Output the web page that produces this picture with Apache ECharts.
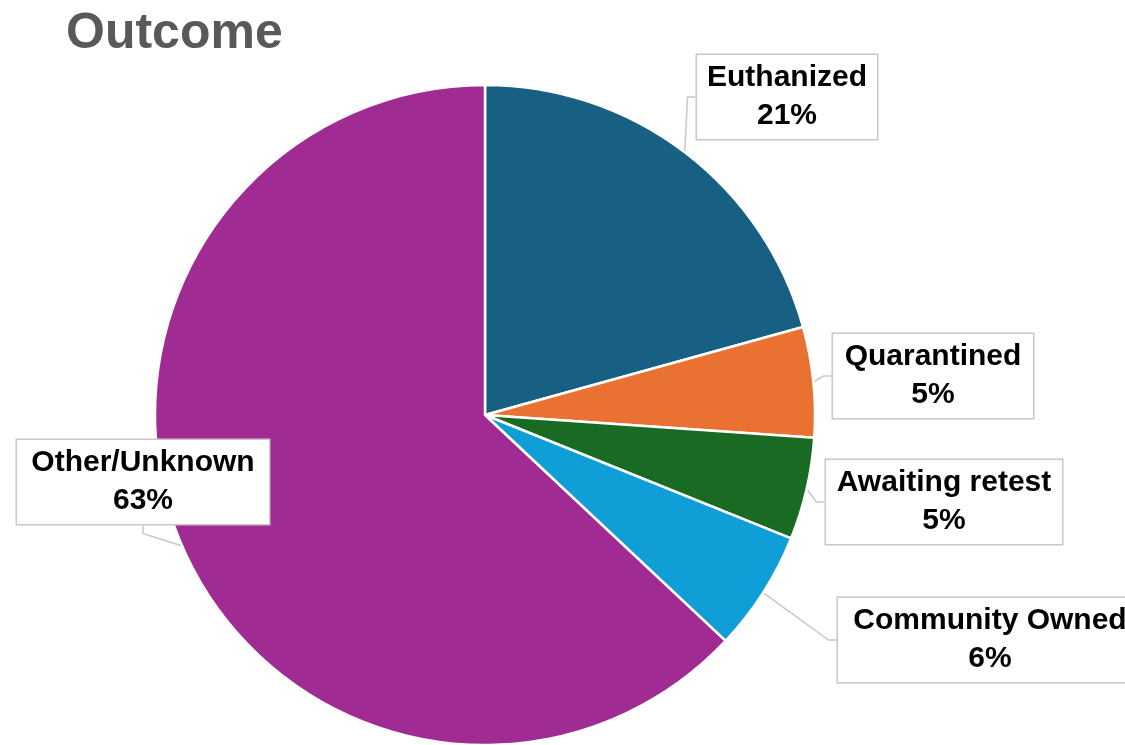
<!DOCTYPE html>
<html>
<head>
<meta charset="utf-8">
<script src="https://cdn.jsdelivr.net/npm/echarts@6/dist/echarts.min.js"></script>
<style>
  html, body { margin: 0; padding: 0; background: #ffffff; }
  #chart { width: 1125px; height: 745px; }
</style>
</head>
<body>
<div id="chart"></div>
<script>
// Outcome shares (percent of cases)
const categories = ['Euthanized', 'Quarantined', 'Awaiting retest', 'Community Owned', 'Other/Unknown'];
const shares = [20.7, 5.4, 5.0, 5.9, 63.0];
const colors = ['#186083', '#E97132', '#196B24', '#0F9ED5', '#A02B93'];

// Callout box placement (centre x, centre y, text box width)
const callouts = [
  [787, 97, 164],
  [933, 376, 184],
  [944, 502, 220],
  [990, 640, 288],
  [143, 482, 236]
];

const total = shares.reduce((a, b) => a + b, 0);

const chart = echarts.init(document.getElementById('chart'));
chart.setOption({
  animation: false,
  title: {
    text: 'Outcome',
    left: 61,
    top: 4,
    textStyle: {
      fontFamily: 'Liberation Sans, Arial, sans-serif',
      fontSize: 50,
      fontWeight: 'bold',
      color: '#595959'
    }
  },
  series: [{
    type: 'pie',
    center: [485, 415],
    radius: [0, 330],
    startAngle: 90,
    clockwise: true,
    avoidLabelOverlap: false,
    itemStyle: { borderColor: '#ffffff', borderWidth: 2.5 },
    data: categories.map((name, i) => ({
      name: name,
      value: shares[i],
      itemStyle: { color: colors[i] },
      label: { width: callouts[i][2] }
    })),
    label: {
      show: true,
      position: 'outside',
      formatter: p => p.name + '\n' + Math.round(p.value / total * 100) + '%',
      fontFamily: 'Liberation Sans, Arial, sans-serif',
      fontSize: 30,
      fontWeight: 'bold',
      color: '#000000',
      lineHeight: 38,
      align: 'center',
      overflow: 'none',
      backgroundColor: '#ffffff',
      borderColor: '#c8c8c8',
      borderWidth: 1.5,
      padding: [7, 8, 1, 8]
    },
    labelLine: {
      show: true,
      length: 8,
      length2: 8,
      lineStyle: { color: '#c8c8c8', width: 1.5 }
    },
    labelLayout: function (params) {
      const c = callouts[params.dataIndex];
      return {
        x: c[0],
        y: c[1],
        align: 'center',
        verticalAlign: 'middle'
      };
    }
  }]
});
</script>
</body>
</html>
